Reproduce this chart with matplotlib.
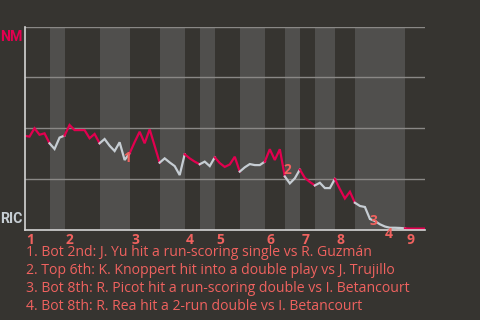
import numpy as np
import matplotlib
matplotlib.use("Agg")
import matplotlib.pyplot as plt

# ── DATA ──────────────────────────────────────────────────────────────────────
# NM win probability after each play (index 0 = first pitch)
win_prob = [0.463, 0.459, 0.500, 0.468, 0.475, 0.426, 0.398, 0.454, 0.464, 0.516,
            0.491, 0.491, 0.491, 0.451, 0.472, 0.426, 0.447, 0.414, 0.388, 0.431,
            0.344, 0.377, 0.432, 0.483, 0.426, 0.495, 0.413, 0.331, 0.352, 0.332,
            0.314, 0.270, 0.372, 0.352, 0.336, 0.323, 0.336, 0.314, 0.357, 0.329,
            0.310, 0.322, 0.360, 0.287, 0.308, 0.324, 0.319, 0.319, 0.336, 0.397,
            0.344, 0.397, 0.263, 0.229, 0.254, 0.297, 0.256, 0.236, 0.219, 0.232,
            0.206, 0.206, 0.251, 0.201, 0.155, 0.188, 0.134, 0.118, 0.113, 0.054,
            0.044, 0.028, 0.017, 0.011, 0.011, 0.010, 0.008, 0.007, 0.007, 0.007,
            0.007]
# play index where each half inning ends (top 1st, bot 1st, ... top 9th)
half_breaks = [0, 5, 8, 15, 21, 27, 32, 35, 38, 43, 48, 52, 55, 58, 62, 66, 76, 80]
inning_labels = ["1", "2", "3", "4", "5", "6", "7", "8", "9"]

event_idx = [20, 52, 69, 72]
event_text = [
    "Bot 2nd: J. Yu hit a run-scoring single vs R. Guzmán",
    "Top 6th: K. Knoppert hit into a double play vs J. Trujillo",
    "Bot 8th: R. Picot hit a run-scoring double vs I. Betancourt",
    "Bot 8th: R. Rea hit a 2-run double vs I. Betancourt",
]
event_offset = [(2, 1.5), (2, 5), (2.5, -1.5), (2.5, -5.5)]  # points

away, home = "NM", "RIC"
# ─────────────────────────────────────────────────────────────────────────────

BG = "#363430"
BAND = "#504f4d"
RED = "#e2004f"
LIGHT = "#c6cdd3"
SALMON = "#f0625f"
plt.rcParams["font.family"] = ["Open Sans", "DejaVu Sans"]

x = np.arange(len(win_prob))
y = np.array(win_prob)

fig = plt.figure(figsize=(4.8, 3.2), dpi=100, facecolor=BG)
ax = fig.add_axes([24.5 / 480, 1 - 230 / 320, 400.5 / 480, 203.5 / 320])
ax.set_facecolor(BG)

for h in range(len(half_breaks) - 1):
    a, b = half_breaks[h], half_breaks[h + 1]
    if h % 2 == 1:
        ax.axvspan(a, b, color=BAND, lw=0, zorder=0)
    ax.plot(x[a:b + 1], y[a:b + 1], color=RED if h % 2 == 0 else LIGHT,
            lw=1.6, zorder=3, solid_joinstyle="miter")

for g in [0.25, 0.5, 0.75, 1.0]:
    ax.axhline(g, color="#8a8886", lw=1, zorder=1)

ax.set_xlim(0, half_breaks[-1])
ax.set_ylim(0, 1)
ax.set_xticks([])
ax.set_yticks([])
for s in ["top", "right"]:
    ax.spines[s].set_visible(False)
for s in ["left", "bottom"]:
    ax.spines[s].set_color("#d4d4d4")
    ax.spines[s].set_linewidth(1.2)
    ax.spines[s].set_zorder(4)

# team labels
ax.text(-0.005, 0.985, away, transform=ax.transAxes, ha="right", va="top",
        color=RED, fontsize=10.2, fontweight="bold", family="Roboto")
ax.text(-0.005, 0.02, home, transform=ax.transAxes, ha="right", va="bottom",
        color=LIGHT, fontsize=10.2, fontweight="bold", family="Roboto")

# inning numbers at the start of each top half
for i, lab in enumerate(inning_labels):
    ax.annotate(lab, (half_breaks[2 * i], 0), xycoords=("data", "axes fraction"),
                xytext=(1, -2), textcoords="offset points", ha="left", va="top",
                color=SALMON, fontsize=10, fontweight="bold", annotation_clip=False)

# event markers
for k, (i, off) in enumerate(zip(event_idx, event_offset)):
    ax.annotate(str(k + 1), (x[i], y[i]), xytext=off, textcoords="offset points",
                ha="center", va="center", color=SALMON, fontsize=10,
                fontweight="bold", zorder=5, annotation_clip=False)

for k, t in enumerate(event_text):
    fig.text(26 / 480, 1 - (253 + 18 * k) / 320, f"{k + 1}. {t}",
             ha="left", va="center", color=SALMON, fontsize=10.1)

fig.savefig("out.png", dpi=100, facecolor=BG)
